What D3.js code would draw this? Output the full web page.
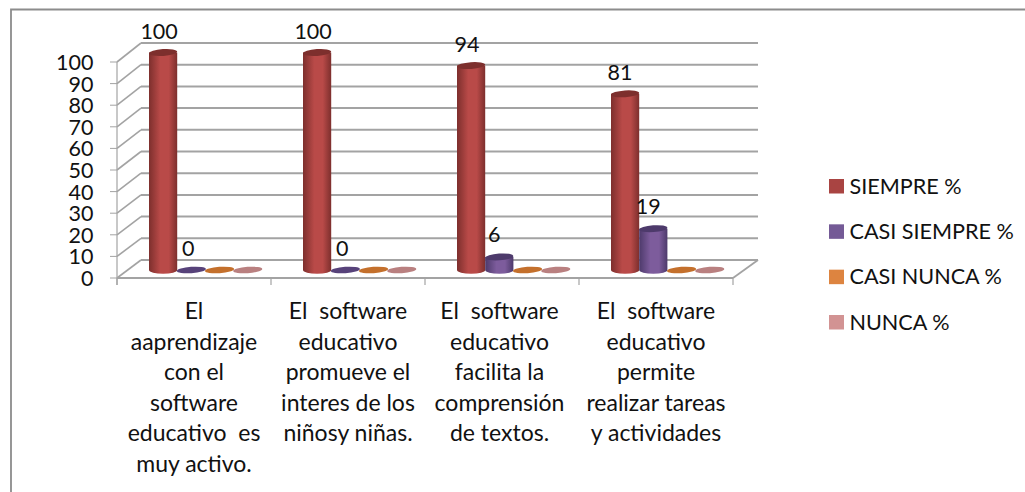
<!DOCTYPE html>
<html><head><meta charset="utf-8">
<script src="https://d3js.org/d3.v7.min.js"></script>
<style>html,body{margin:0;padding:0;background:#fff}svg{display:block}</style>
</head><body><svg id="c" width="1025" height="492"></svg>
<script>
const categories=[["El","aaprendizaje","con el","software","educativo  es","muy activo."],
["El  software","educativo","promueve el","interes de los","niñosy niñas."],
["El  software","educativo","facilita la","comprensión","de textos."],
["El  software","educativo","permite","realizar tareas","y actividades"]];
const seriesNames=["SIEMPRE %","CASI SIEMPRE %","CASI NUNCA %","NUNCA %"];
const siempre=[100,100,94,81];
const casiSiempre=[0,0,6,19];
const casiNunca=[0,0,0,0];
const nunca=[0,0,0,0];
const yTicks=[0,10,20,30,40,50,60,70,80,90,100];
const seriesValues=[siempre,casiSiempre,casiNunca,nunca];
const dark=["#7d2f2d","#4d3a6b","#b8662a","#a87474"];
const edge=["#8a3533","#57427a","#c4702c","#b98080"];
const mid=["#b94a48","#7d5c9c","#dd8439","#d39493"];
const legendCol=["#a94442","#745a96","#dd8440","#d29393"];
const labelled=[true,true,false,false];
const svg=d3.select("#c");
const font="Lato, Carlito, 'Open Sans', sans-serif";
const grey="#a3a3a3";
svg.append("path").attr("d","M11,492V9.5H1025").attr("fill","none").attr("stroke","#8c8c8c").attr("stroke-width",1.8);
const front=d3.scaleLinear().domain([0,100]).range([278,62]);
const back=d3.scaleLinear().domain([0,100]).range([260,43]);
const xF=d3.scaleBand().domain(d3.range(4)).range([117,733]);
const bar=d3.scaleLinear().domain([0,100]).range([270,52.5]);
const g=svg.append("g").attr("stroke",grey).attr("fill","none");
const bx0=141,bx1=758;
yTicks.forEach(v=>{
 g.append("line").attr("x1",bx0).attr("x2",bx1).attr("y1",back(v)).attr("y2",back(v)).attr("stroke-width",2);
 g.append("line").attr("x1",117).attr("x2",bx0).attr("y1",front(v)).attr("y2",back(v)).attr("stroke-width",1.6);
 g.append("line").attr("x1",110).attr("x2",117).attr("y1",front(v)).attr("y2",front(v)).attr("stroke-width",1);
});
g.append("line").attr("x1",117).attr("x2",117).attr("y1",front(100)).attr("y2",285).attr("stroke-width",1.2);
g.append("line").attr("x1",117).attr("x2",733).attr("y1",278).attr("y2",278).attr("stroke-width",2);
g.append("line").attr("x1",733).attr("x2",758).attr("y1",278).attr("y2",260).attr("stroke-width",1.8);
d3.range(5).forEach(i=>{const x=117+i*xF.bandwidth();g.append("line").attr("x1",x).attr("x2",x).attr("y1",278).attr("y2",285).attr("stroke-width",1.2);});
svg.append("g").selectAll("text").data(yTicks).join("text").attr("x",93.5).attr("y",d=>front(d)+8).attr("text-anchor","end")
 .attr("font-family",font).attr("font-size",21.5).attr("fill","#111").text(d=>d);
const defs=svg.append("defs");
seriesNames.forEach((n,i)=>{
 const lg=defs.append("linearGradient").attr("id","g"+i);
 lg.append("stop").attr("offset","0%").attr("stop-color",dark[i]);
 lg.append("stop").attr("offset","40%").attr("stop-color",mid[i]);
 lg.append("stop").attr("offset","70%").attr("stop-color",mid[i]);
 lg.append("stop").attr("offset","100%").attr("stop-color",dark[i]);
});
const gx=d3.scaleBand().domain(d3.range(4)).range([149,149+4*28.2]);
const ry=3.4;
const bars=svg.append("g");
const catNudge=[0,0,-2.5,0];
categories.forEach((c,k)=>{
 const ox=k*154;
 seriesValues.forEach((vals,s)=>{
  const v=vals[k],x0=gx(s)+ox,w=gx.bandwidth(),top=bar(v),cx=x0+w/2,b=bar(0);
  const r=w/2;
  if(v>0){
   bars.append("path").attr("d",`M${x0},${top}V${b}A${r},${ry+.4} 0 0 0 ${x0+w},${b}V${top}Z`).attr("fill",`url(#g${s})`);
   bars.append("ellipse").attr("cx",cx).attr("cy",top).attr("rx",r).attr("ry",ry).attr("fill",dark[s]).attr("transform",`rotate(-4 ${cx} ${top})`);
  } else {
   bars.append("ellipse").attr("cx",cx).attr("cy",b).attr("rx",r+.5).attr("ry",3.2).attr("fill",edge[s]).attr("transform",`rotate(-4 ${cx} ${b})`);
  }
  if(labelled[s]){
   const dxL=s==0?(v==81?-5:-4):(v==0?-3:-5);
   const dyL=v==0?14:(s==1?(v==19?14.5:15):(v==81?14:13.5));
   svg.append("text").attr("x",cx+dxL).attr("y",top-dyL).attr("text-anchor","middle")
    .attr("font-family",font).attr("font-size",21.5).attr("fill","#111").text(v);
  }
 });
 const t=svg.append("text").attr("text-anchor","middle").attr("font-family",font).attr("font-size",23).attr("fill","#111");
 c.forEach((l,i)=>t.append("tspan").attr("x",xF(k)+xF.bandwidth()/2+catNudge[k]).attr("y",319+i*30.6).style("white-space","pre").text(l));
});
const bandY=d3.scalePoint().domain(seriesNames).range([186,322]);
seriesNames.forEach((n,i)=>{
 svg.append("rect").attr("x",829).attr("y",bandY(n)-7).attr("width",15).attr("height",14.5).attr("fill",legendCol[i]);
 svg.append("text").attr("x",849.5).attr("y",bandY(n)+7.5).attr("font-family",font).attr("font-size",21.6).attr("fill","#111").text(n);
});
</script></body></html>
